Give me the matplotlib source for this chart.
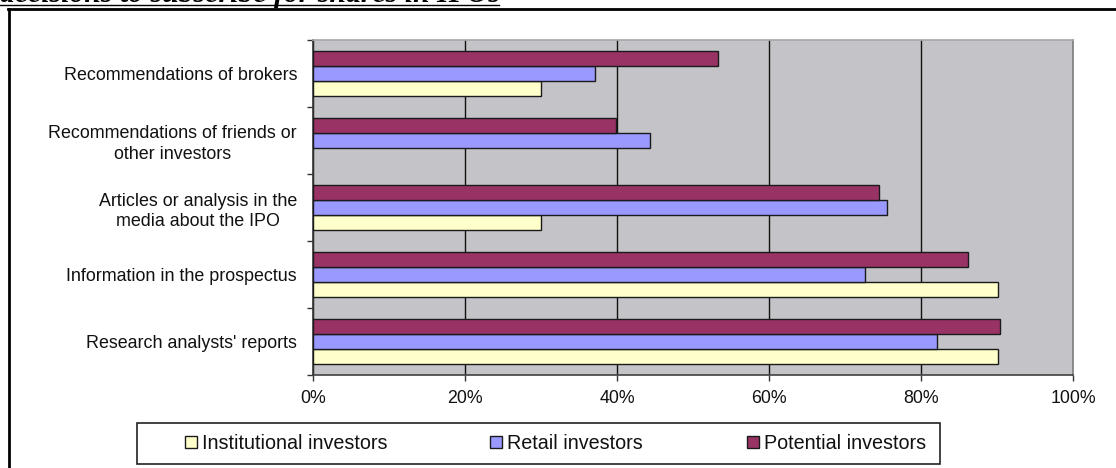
import numpy as np
import matplotlib
matplotlib.use("Agg")
import matplotlib.pyplot as plt
from matplotlib.lines import Line2D
from matplotlib.patches import Patch, Rectangle

categories = ["Research analysts' reports",
              "Information in the prospectus",
              "Articles or analysis in the\nmedia about the IPO",
              "Recommendations of friends or\nother investors",
              "Recommendations of brokers"]
institutional = [90.1, 90.1, 30.0, np.nan, 30.0]
retail = [82.1, 72.6, 75.5, 44.3, 37.1]
potential = [90.4, 86.2, 74.5, 39.9, 53.3]
series_names = ["Institutional investors", "Retail investors", "Potential investors"]
colors = ["#FFFFCC", "#9999FF", "#993366"]
xticks = [0, 20, 40, 60, 80, 100]
xticklabels = ["0%", "20%", "40%", "60%", "80%", "100%"]
title_text = "decisions to subscribe for shares in IPOs"

W, H = 1116, 468
fig = plt.figure(figsize=(W / 100, H / 100), dpi=100)
plt.rcParams['font.family'] = ['Liberation Sans', 'DejaVu Sans']

def fx(px):
    return px / W

def fy(py):
    return 1 - py / H

ax = fig.add_axes([fx(313), fy(375), fx(1073) - fx(313), fy(40) - fy(375)])
ax.set_facecolor("#C4C3C7")
ax.set_zorder(1)

y = np.arange(len(categories))
h = 0.22
for vals, off, col, name in zip([institutional, retail, potential], [-h, 0, h], colors, series_names):
    ax.barh(y + off, vals, height=h, color=col, edgecolor="#1a1a1a", linewidth=1.0, zorder=3, label=name)

ax.set_xlim(0, 100)
ax.set_ylim(-0.5, len(categories) - 0.5)
ax.set_xticks(xticks)
ax.set_xticklabels(xticklabels, fontsize=12.8)
ax.set_yticks(y)
ax.set_yticklabels(categories, fontsize=12.9, linespacing=1.3)
for lbl in ax.get_yticklabels():
    lbl.set_multialignment('center')
ax.set_yticks(np.arange(-0.5, len(categories)), minor=True)
ax.tick_params(axis='y', which='major', length=0, pad=11.5, colors='#111111')
ax.tick_params(axis='y', which='minor', length=4, width=1, direction='out', color='#333333')
ax.tick_params(axis='x', which='major', length=4, width=1, direction='out', pad=7, color='#333333', labelcolor='#111111')

ax.xaxis.grid(True, color='#111111', linewidth=1.0, zorder=1)
ax.set_axisbelow(True)

ax.spines['left'].set_color('#333333')
ax.spines['bottom'].set_color('#404040')
ax.spines['right'].set_color('#808080')
ax.spines['top'].set_color('#A8A8A8')
for s in ax.spines.values():
    s.set_linewidth(1.2)

# legend frame
fig.add_artist(Rectangle((fx(137), fy(464)), fx(940) - fx(137), fy(423) - fy(464),
                         transform=fig.transFigure, facecolor='white', edgecolor='#222222',
                         linewidth=1.2, zorder=2))
# legend entries (one per series, placed at the reference's positions)
entry_x = [185, 490, 747]
for col, name, ex in zip(colors, series_names, entry_x):
    hnd = Patch(facecolor=col, edgecolor='#1a1a1a', linewidth=1.0)
    lg = fig.legend([hnd], [name], loc='center left', bbox_to_anchor=(fx(ex), fy(443.5)),
                    fontsize=14.2, frameon=False, handlelength=0.6, handleheight=0.57,
                    handletextpad=0.28, borderaxespad=0, borderpad=0)
    lg.set_zorder(3)
    for txt in lg.get_texts():
        txt.set_color('#111111')

# outer frame (cropped)
fig.add_artist(Line2D([fx(9), fx(9)], [fy(9), fy(H + 5)], color='black', linewidth=2.0))
fig.add_artist(Line2D([fx(8), fx(W + 5)], [fy(9), fy(9)], color='black', linewidth=2.0))

# cropped title at top (only its lower edge is visible, as in the reference)
t = fig.text(fx(0), fy(2.5), title_text, fontsize=18, fontweight='bold', fontstyle='italic',
             family=['Liberation Serif', 'DejaVu Serif'], va='baseline', ha='left')
fig.canvas.draw()
bb = t.get_window_extent()
t.set_fontsize(18 * 499 / bb.width)
fig.add_artist(Line2D([fx(0), fx(499)], [fy(5.2), fy(5.2)], color='black', linewidth=1.0))

fig.savefig("out.png", dpi=100)
